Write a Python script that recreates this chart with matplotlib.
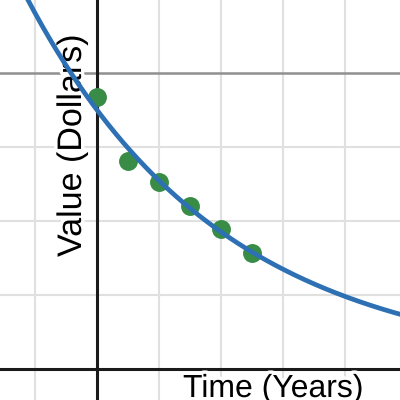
import matplotlib
matplotlib.use('Agg')
import matplotlib.pyplot as plt
import matplotlib.patheffects as pe
import numpy as np

# observed values (years, value in grid units)
years = [0.0, 0.5, 1.0, 1.5, 2.0, 2.5]
values = [3.68, 2.815, 2.53, 2.20, 1.89, 1.57]

# exponential model y = a * exp(-k * t)
a = 3.5
k = 0.318

x_grid = [-1, 1, 2, 3, 4]
y_grid = [1, 2, 3]
y_ref = 4

plt.rcParams['font.family'] = ['Liberation Sans', 'DejaVu Sans']

fig = plt.figure(figsize=[4, 4], dpi=100)
ax = fig.add_axes([0, 0, 1, 1])
ax.set_xlim(-97 / 62, 303 / 62)
ax.set_ylim(-31 / 74, 369 / 74)
ax.axis('off')

for g in x_grid:
  ax.axvline(g, color='#e0e0e0', lw=1.5, zorder=1)
for g in y_grid:
  ax.axhline(g, color='#e0e0e0', lw=1.5, zorder=1)
ax.axhline(y_ref, color='#8f8f8f', lw=1.8, zorder=2)
ax.axvline(0, color='#1a1a1a', lw=2.2, zorder=3)
ax.axhline(0, color='#1a1a1a', lw=2.2, zorder=3)

halo = [pe.withStroke(linewidth=5, foreground='white')]
ax.text(183 / 400, 3 / 400, 'Time (Years)', fontsize=23, ha='left', va='baseline',
        transform=fig.transFigure, path_effects=halo, zorder=3.5)
ax.text(81 / 400, 1 - 257 / 400, 'Value (Dollars)', fontsize=24.5, rotation=90,
        ha='left', va='baseline', rotation_mode='anchor', transform=fig.transFigure,
        path_effects=halo, zorder=3.5)

t = np.linspace(-2, 6, 400)
ax.scatter(years, values, s=185, color='#388c46', zorder=4, linewidths=0)
ax.plot(t, a * np.exp(-k * t), color='#2d70b3', lw=3.4, zorder=5, solid_capstyle='round')

plt.savefig('out.png', dpi=100)
